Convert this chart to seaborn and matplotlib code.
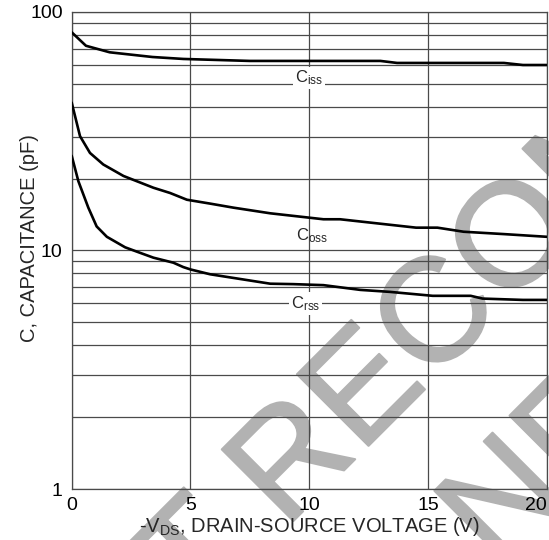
import matplotlib
matplotlib.use("Agg")
import matplotlib.pyplot as plt
import matplotlib.patheffects as pe
from matplotlib.ticker import LogLocator, NullFormatter, FixedLocator, FuncFormatter
import numpy as np
import pandas as pd
import seaborn as sns

# Drain-source voltage sweep points and measured capacitances (pF)
ciss_v = [0, 0.6, 1.6, 3.4, 4.7, 7.5, 13.0, 13.7, 18.2, 19.0, 20]
ciss_c = [82, 72, 67.6, 64.6, 63.4, 62.2, 62.2, 61.0, 61.0, 59.8, 59.8]

coss_v = [0, 0.35, 0.77, 1.33, 2.18, 3.44, 4.14, 4.85, 5.83, 6.81, 8.36,
          10.6, 11.3, 14.5, 15.4, 16.5, 18.2, 20]
coss_c = [41.6, 30.1, 25.6, 22.9, 20.5, 18.3, 17.4, 16.3, 15.7, 15.1, 14.3,
          13.5, 13.5, 12.45, 12.45, 11.97, 11.7, 11.4]

crss_v = [0, 0.28, 0.7, 1.05, 1.48, 2.25, 2.74, 3.44, 4.28, 4.7, 5.0, 5.83,
          8.36, 9.33, 10.6, 12.15, 13.4, 15.2, 16.8, 17.3, 19.0, 20]
crss_c = [24.9, 19.5, 15.1, 12.6, 11.4, 10.3, 9.88, 9.32, 8.88, 8.51, 8.32, 7.94,
          7.25, 7.22, 7.15, 6.83, 6.7, 6.45, 6.45, 6.28, 6.2, 6.2]

series_names = ["iss", "oss", "rss"]
x_ticks = [0, 5, 10, 15, 20]
y_ticks = [1, 10, 100]

# curve-name annotations: (x, y) anchor of the text baseline
name_pos = {"iss": (10.0, 50.5), "oss": (10.1, 11.0), "rss": (9.85, 5.72)}

sns.set_theme(style="white")
plt.rcParams["font.family"] = ["Liberation Sans", "DejaVu Sans"]
plt.rcParams["mathtext.default"] = "regular"

W, H = 549, 540
fig = plt.figure(figsize=(W / 100, H / 100), dpi=100)
ax = fig.add_axes([0.1306, 0.0944, 0.8652, 0.8839])
ax.patch.set_alpha(0)

grid_col = "#4a4a4a"
for v, c in [(ciss_v, ciss_c), (coss_v, coss_c), (crss_v, crss_c)]:
    df = pd.DataFrame({"v": v, "c": c})
    sns.lineplot(data=df, x="v", y="c", ax=ax, color="black", linewidth=1.9,
                 estimator=None, sort=False, zorder=3)

ax.set_yscale("log")
ax.set_xlim(0, 20)
ax.set_ylim(1, 100)
ax.xaxis.set_major_locator(FixedLocator(x_ticks))
ax.yaxis.set_major_locator(FixedLocator(y_ticks))
ax.yaxis.set_major_formatter(FuncFormatter(lambda y, _: f"{y:g}"))
ax.yaxis.set_minor_locator(LogLocator(base=10, subs=np.arange(2, 10)))
ax.yaxis.set_minor_formatter(NullFormatter())
ax.grid(True, which="major", axis="both", color=grid_col, linewidth=0.9)
ax.grid(True, which="minor", axis="y", color=grid_col, linewidth=0.9)
ax.set_axisbelow(True)
ax.tick_params(axis="both", which="both", length=0, labelsize=14, colors="black")
ax.tick_params(axis="y", pad=6.5)
ax.tick_params(axis="x", pad=5.5)
for sp in ax.spines.values():
    sp.set_color(grid_col)
    sp.set_linewidth(0.9)

ax.set_xlabel("-V$_{DS}$, DRAIN-SOURCE VOLTAGE (V)", fontsize=14.5, labelpad=1)
ax.set_ylabel("C, CAPACITANCE (pF)", fontsize=14.5)
ax.yaxis.set_label_coords(-0.069, 0.526)

# keep the last x tick label inside the figure
xlabels = ax.get_xticklabels()
xlabels[-1].set_horizontalalignment("right")

for name in series_names:
    xv, yv = name_pos[name]
    bbox = None if name == "oss" else dict(facecolor="white", edgecolor="none", pad=1.5)
    ax.text(xv, yv, f"C$_{{{name}}}$", fontsize=12, ha="center", va="baseline",
            bbox=bbox, zorder=4)

# diagonal "not recommended" watermark behind the grid
em = 147.2                       # font em size in pixels
fs = em * 72 / 100               # in points at 100 dpi
b = np.array([0.7071, -0.7071])  # baseline direction (image pixels, y down)
u = np.array([-0.7071, -0.7071]) # glyph-up direction
r_origin = np.array([286.7, 527.7])
p1 = r_origin - 2.389 * em * b
p2 = p1 + 0.805 * em * b - 1.22 * em * u
wm_col = "#b2b2b2"
wm = dict(fontsize=fs, color=wm_col, rotation=45, rotation_mode="anchor",
          ha="left", va="baseline", transform=fig.transFigure, clip_on=False,
          zorder=0.1,
          path_effects=[pe.withStroke(linewidth=1.5, foreground=wm_col)])
for p, line in [(p1, "NOT RECOMMENDED"), (p2, "FOR NEW DESIGN")]:
    ax.text(p[0] / W, 1 - p[1] / H, line, **wm)

fig.savefig("out.png", dpi=100)
